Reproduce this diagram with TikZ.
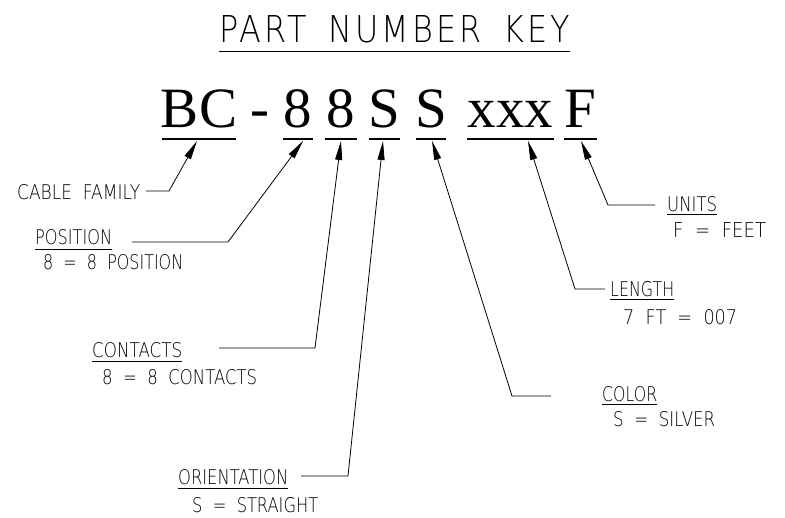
\documentclass[tikz,border=0pt]{standalone}
\usepackage{graphicx}
\usepackage{fontspec}
\setmainfont{Liberation Sans}
\newfontfamily\bigserif{Liberation Serif}
\IfFontExistsTF{DejaVu Sans ExtraLight}
  {\newcommand\thinname{DejaVu Sans ExtraLight}}
  {\IfFontExistsTF{DejaVuSans-ExtraLight.ttf}
     {\newcommand\thinname{DejaVuSans-ExtraLight.ttf}}
     {\newcommand\thinname{Liberation Sans}}}
\newfontfamily\thinsans{\thinname}[WordSpace=2.0]
\newfontfamily\thintitle{\thinname}[WordSpace=1.6,LetterSpace=10]
\usetikzlibrary{arrows.meta}
\newcommand{\fitlbl}[3]{\resizebox{#1pt}{#2pt}{\thinsans #3}}
\newcommand{\fittitle}[3]{\resizebox{#1pt}{#2pt}{\thintitle #3}}
\begin{document}
\begin{tikzpicture}[x=1pt,y=-1pt,
  lbl/.style={inner sep=0pt, anchor=base west},
  big/.style={inner sep=0pt, anchor=base, font=\bigserif\fontsize{57}{57}\selectfont},
  ul/.style={line width=2.6pt},
  lul/.style={line width=0.8pt},
  leader/.style={line width=0.8pt, -{Triangle[length=19pt,width=7pt]}},
]
\useasboundingbox (0,0) rectangle (785,518);

% title
\node[lbl] (title) at (219,43) {\fittitle{351}{27}{PART NUMBER KEY}};
\draw[line width=1pt] (219,52) -- (570,52);

% big part number
\node[big] (pBC) at (199,128) {BC};
\node[big] (pdash) at (260,128) {-};
\node[big] (p8a) at (298,128) {8};
\node[big] (p8b) at (341,128) {8};
\node[big] (pSa) at (384.5,128) {S};
\node[big] (pSb) at (431,128) {S};
\node[big] (pxxx) at (510.5,128) {xxx};
\node[big] (pF) at (580.5,128) {F};

% underlines
\draw[ul] (162,139) -- (236,139);
\draw[ul] (283,139) -- (313,139);
\draw[ul] (325,139) -- (357,139);
\draw[ul] (369,139) -- (400,139);
\draw[ul] (416,139) -- (446,139);
\draw[ul] (467,139) -- (554,139);
\draw[ul] (564,139) -- (597,139);

% arrow tips
\coordinate (tBC) at (197,141);
\coordinate (t8a) at (303,141);
\coordinate (t8b) at (341,141);
\coordinate (tSa) at (383,141);
\coordinate (tSb) at (432,141);
\coordinate (txxx) at (528,141);
\coordinate (tF) at (581,141);

% labels
\node[lbl] (cable) at (17,200) {\fitlbl{123}{15}{CABLE FAMILY}};

\node[lbl] (pos) at (35,245) {\fitlbl{77}{15}{POSITION}};
\draw[lul] (35,249) -- (112,249);
\node[lbl] (posv) at (43,270) {\fitlbl{140}{15}{8 = 8 POSITION}};

\node[lbl] (con) at (92,358) {\fitlbl{90}{15}{CONTACTS}};
\draw[lul] (92,361) -- (182,361);
\node[lbl] (conv) at (102,385) {\fitlbl{155}{15}{8 = 8 CONTACTS}};

\node[lbl] (ori) at (178,485) {\fitlbl{110}{15}{ORIENTATION}};
\draw[lul] (178,488) -- (288,488);
\node[lbl] (oriv) at (192,512) {\fitlbl{126}{15}{S = STRAIGHT}};

\node[lbl] (col) at (602,402) {\fitlbl{55}{15}{COLOR}};
\draw[lul] (602,404) -- (657,404);
\node[lbl] (colv) at (613,427) {\fitlbl{102}{15}{S = SILVER}};

\node[lbl] (len) at (610,297) {\fitlbl{64}{15}{LENGTH}};
\draw[lul] (610,299) -- (674,299);
\node[lbl] (lenv) at (623,325) {\fitlbl{114}{15}{7 FT = 007}};

\node[lbl] (uni) at (667,212) {\fitlbl{50}{15}{UNITS}};
\draw[lul] (667,214) -- (717,214);
\node[lbl] (univ) at (673,238) {\fitlbl{93}{15}{F = FEET}};

% leader start and corner points
\coordinate (sCab) at (146,191); \coordinate (kCab) at (169,191);
\coordinate (sPos) at (132,242); \coordinate (kPos) at (228,242);
\coordinate (sCon) at (219,348); \coordinate (kCon) at (315,348);
\coordinate (sOri) at (301,476); \coordinate (kOri) at (348,476);
\coordinate (sCol) at (551,396); \coordinate (kCol) at (512,396);
\coordinate (sLen) at (605,289); \coordinate (kLen) at (575,289);
\coordinate (sUni) at (655,205); \coordinate (kUni) at (608,205);

\draw[leader] (sCab) -- (kCab) -- (tBC);
\draw[leader] (sPos) -- (kPos) -- (t8a);
\draw[leader] (sCon) -- (kCon) -- (t8b);
\draw[leader] (sOri) -- (kOri) -- (tSa);
\draw[leader] (sCol) -- (kCol) -- (tSb);
\draw[leader] (sLen) -- (kLen) -- (txxx);
\draw[leader] (sUni) -- (kUni) -- (tF);
\end{tikzpicture}
\end{document}
